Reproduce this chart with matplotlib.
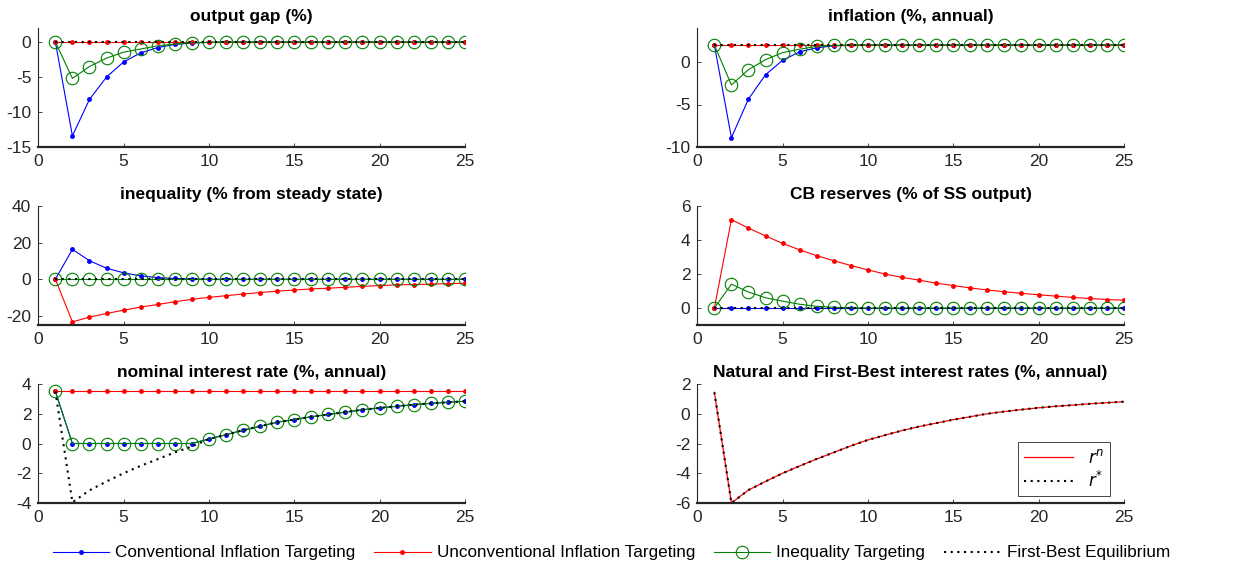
import matplotlib
matplotlib.use("Agg")
import matplotlib.pyplot as plt

plt.rcParams["font.family"] = ["Liberation Sans", "DejaVu Sans"]
plt.rcParams["axes.unicode_minus"] = False

# Data
periods = list(range(1, 26))

# output gap (%)
cit_gap = [0, -13.4, -8.2, -5.0, -2.85, -1.55, -0.8, -0.35, -0.15, -0.05, 0, 0, 0,
           0, 0, 0, 0, 0, 0, 0, 0, 0, 0, 0, 0]
uit_gap = [0, 0, 0, 0, 0, 0, 0, 0, 0, 0, 0, 0, 0, 0, 0, 0, 0, 0, 0, 0, 0, 0, 0, 0, 0]
it_gap = [0, -5.2, -3.5, -2.3, -1.45, -1.0, -0.55, -0.28, -0.1, -0.04, 0, 0, 0,
          0, 0, 0, 0, 0, 0, 0, 0, 0, 0, 0, 0]
fb_gap = [0, 0, 0, 0, 0, 0, 0, 0, 0, 0, 0, 0, 0, 0, 0, 0, 0, 0, 0, 0, 0, 0, 0, 0, 0]

# inflation (%, annual)
cit_inf = [2, -8.9, -4.35, -1.5, 0.2, 1.2, 1.67, 1.9, 1.97, 2, 2, 2, 2,
           2, 2, 2, 2, 2, 2, 2, 2, 2, 2, 2, 2]
uit_inf = [2, 2, 2, 2, 2, 2, 2, 2, 2, 2, 2, 2, 2, 2, 2, 2, 2, 2, 2, 2, 2, 2, 2, 2, 2]
it_inf = [2, -2.7, -0.9, 0.28, 1.1, 1.5, 1.85, 1.95, 2, 2, 2, 2, 2,
          2, 2, 2, 2, 2, 2, 2, 2, 2, 2, 2, 2]
fb_inf = [2, 2, 2, 2, 2, 2, 2, 2, 2, 2, 2, 2, 2, 2, 2, 2, 2, 2, 2, 2, 2, 2, 2, 2, 2]

# inequality (% from steady state)
cit_ineq = [0, 16.3, 10.1, 6.0, 3.5, 1.85, 0.9, 0.4, 0.15, 0.05, 0, 0, 0,
            0, 0, 0, 0, 0, 0, 0, 0, 0, 0, 0, 0]
uit_ineq = [0, -23.3, -20.7, -18.7, -16.9, -15.2, -13.8, -12.3, -11.0, -9.9, -9.0,
            -8.1, -7.3, -6.5, -5.9, -5.3, -4.9, -4.4, -3.9, -3.5, -3.1, -2.9,
            -2.7, -2.4, -2.2]
it_ineq = [0, 0, 0, 0, 0, 0, 0, 0, 0, 0, 0, 0, 0, 0, 0, 0, 0, 0, 0, 0, 0, 0, 0, 0, 0]
fb_ineq = [0, 0, 0, 0, 0, 0, 0, 0, 0, 0, 0, 0, 0, 0, 0, 0, 0, 0, 0, 0, 0, 0, 0, 0, 0]

# CB reserves (% of SS output)
cit_res = [0, 0, 0, 0, 0, 0, 0, 0, 0, 0, 0, 0, 0, 0, 0, 0, 0, 0, 0, 0, 0, 0, 0, 0, 0]
uit_res = [0, 5.2, 4.7, 4.24, 3.8, 3.42, 3.08, 2.78, 2.5, 2.24, 2.0, 1.8, 1.64,
           1.46, 1.32, 1.18, 1.06, 0.96, 0.86, 0.78, 0.7, 0.62, 0.56, 0.5, 0.46]
it_res = [0, 1.4, 0.94, 0.6, 0.4, 0.22, 0.1, 0.04, 0.01, 0, 0, 0, 0,
          0, 0, 0, 0, 0, 0, 0, 0, 0, 0, 0, 0]
fb_res = [0, 0, 0, 0, 0, 0, 0, 0, 0, 0, 0, 0, 0, 0, 0, 0, 0, 0, 0, 0, 0, 0, 0, 0, 0]

# nominal interest rate (%, annual)
cit_nom = [3.5, 0, 0, 0, 0, 0, 0, 0, 0, 0.3, 0.59, 0.89, 1.16, 1.43, 1.61, 1.8,
           1.95, 2.11, 2.27, 2.39, 2.5, 2.61, 2.7, 2.77, 2.84]
uit_nom = [3.5, 3.5, 3.5, 3.5, 3.5, 3.5, 3.5, 3.5, 3.5, 3.5, 3.5, 3.5, 3.5,
           3.5, 3.5, 3.5, 3.5, 3.5, 3.5, 3.5, 3.5, 3.5, 3.5, 3.5, 3.5]
it_nom = [3.5, 0, 0, 0, 0, 0, 0, 0, 0, 0.3, 0.59, 0.89, 1.16, 1.43, 1.61, 1.8,
          1.95, 2.11, 2.27, 2.39, 2.5, 2.61, 2.7, 2.77, 2.84]
fb_nom = [3.5, -3.95, -3.15, -2.55, -2.0, -1.5, -1.05, -0.6, -0.2, 0.3, 0.59, 0.89,
          1.16, 1.43, 1.61, 1.8, 1.95, 2.11, 2.27, 2.39, 2.5, 2.61, 2.7, 2.77, 2.84]

# natural and first-best interest rates (%, annual)
r_nat = [1.44, -6.0, -5.13, -4.55, -4.0, -3.51, -3.04, -2.6, -2.16, -1.76, -1.44,
         -1.13, -0.86, -0.63, -0.4, -0.2, 0.0, 0.15, 0.28, 0.4, 0.5, 0.58, 0.67,
         0.74, 0.81]
r_star = [1.44, -6.0, -5.13, -4.55, -4.0, -3.51, -3.04, -2.6, -2.16, -1.76, -1.44,
          -1.13, -0.86, -0.63, -0.4, -0.2, 0.0, 0.15, 0.28, 0.4, 0.5, 0.58, 0.67,
          0.74, 0.81]

legend_labels = ["Conventional Inflation Targeting", "Unconventional Inflation Targeting",
                 "Inequality Targeting", "First-Best Equilibrium"]

panels = [
    ("output gap (%)", [cit_gap, uit_gap, it_gap, fb_gap], (-15, 2), [-15, -10, -5, 0]),
    ("inflation (%, annual)", [cit_inf, uit_inf, it_inf, fb_inf], (-10, 4), [-10, -5, 0]),
    ("inequality (% from steady state)", [cit_ineq, uit_ineq, it_ineq, fb_ineq],
     (-25, 40), [-20, 0, 20, 40]),
    ("CB reserves (% of SS output)", [cit_res, uit_res, it_res, fb_res], (-1, 6), [0, 2, 4, 6]),
    ("nominal interest rate (%, annual)", [cit_nom, uit_nom, it_nom, fb_nom],
     (-4, 4), [-4, -2, 0, 2, 4]),
]

AX_COLOR = "#262626"
GREEN = (0, 0.5, 0)
DOTS = (0, (1, 2.2))

fig = plt.figure(figsize=(12.4, 5.68), dpi=100)
lefts = [38.3 / 1240, 697.3 / 1240]
width = 426.5 / 1240
bottoms = [1 - 147 / 568, 1 - 325 / 568, 1 - 503 / 568]
height = 119 / 568


def style_axis(ax, ylim, yticks):
    ax.set_xlim(0, 25)
    ax.set_xticks([0, 5, 10, 15, 20, 25])
    ax.set_ylim(*ylim)
    ax.set_yticks(yticks)
    for side in ["top", "right"]:
        ax.spines[side].set_visible(False)
    ax.spines["left"].set_linewidth(0.8)
    ax.spines["bottom"].set_linewidth(1.6)
    ax.spines["left"].set_color(AX_COLOR)
    ax.spines["bottom"].set_color(AX_COLOR)
    ax.tick_params(direction="in", length=3, width=0.6, labelsize=12.5,
                   colors=AX_COLOR, pad=5)


handles = None
for i, (title, series, ylim, yticks) in enumerate(panels):
    row, col = divmod(i, 2)
    ax = fig.add_axes([lefts[col], bottoms[row], width, height])
    cit, uit, it, fb = series
    h1, = ax.plot(periods, cit, "-", color="b", marker=".", markersize=5, lw=0.8)
    h2, = ax.plot(periods, uit, "-", color="r", marker=".", markersize=5, lw=0.8)
    h3, = ax.plot(periods, it, "-", color=GREEN, marker="o", markersize=9,
                  markerfacecolor="none", markeredgewidth=0.8, lw=0.8)
    h4, = ax.plot(periods, fb, color="k", linestyle=DOTS, lw=1.5)
    ax.set_title(title, fontsize=12.5, fontweight="bold", pad=5)
    style_axis(ax, ylim, yticks)
    if handles is None:
        handles = [h1, h2, h3, h4]

# natural and first-best rates
ax = fig.add_axes([lefts[1], bottoms[2], width, height])
ax.plot(periods, r_nat, "-", color="r", lw=0.9, label="$r^n$")
ax.plot(periods, r_star, color="k", linestyle=DOTS, lw=1.5, label="$r^{*}$")
ax.set_title("Natural and First-Best interest rates (%, annual)", fontsize=12.5,
             fontweight="bold", pad=5)
style_axis(ax, (-6, 2), [-6, -4, -2, 0, 2])
leg = ax.legend(loc="lower right", bbox_to_anchor=(0.967, 0.06), fontsize=12,
                handlelength=2.9, handletextpad=0.9, fancybox=False, framealpha=1,
                borderaxespad=0, labelspacing=0.25, borderpad=0.35)
leg.get_frame().set_edgecolor(AX_COLOR)
leg.get_frame().set_linewidth(0.6)

fig.legend(handles, legend_labels, loc="center", bbox_to_anchor=(0.493, 1 - 553 / 568),
           ncol=4, frameon=False, fontsize=12.3, handlelength=3.3,
           handletextpad=0.36, columnspacing=1.1)

plt.savefig("out.png", dpi=100)
